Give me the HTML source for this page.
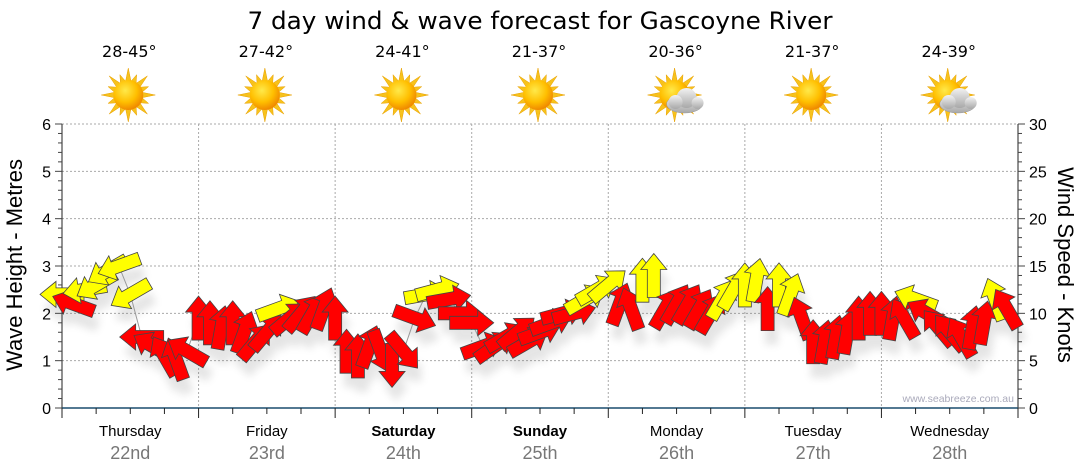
<!DOCTYPE html>
<html><head><meta charset="utf-8"><style>
body{margin:0;background:#fff;}
svg{display:block;font-family:"DejaVu Sans","Liberation Sans",sans-serif;}
</style></head><body>
<svg id="chart" width="1080" height="475" viewBox="0 0 1080 475">
<defs>
<radialGradient id="sunG" cx="40%" cy="35%" r="65%"><stop offset="0" stop-color="#ffe94a"/><stop offset="0.6" stop-color="#ffbf00"/><stop offset="1" stop-color="#f08a00"/></radialGradient>
<linearGradient id="cloudG" x1="0" y1="0" x2="0" y2="1"><stop offset="0" stop-color="#f2f2f2"/><stop offset="1" stop-color="#a8a8a8"/></linearGradient>
<filter id="sh" x="-50%" y="-50%" width="200%" height="200%"><feGaussianBlur stdDeviation="4"/></filter>
</defs>
<text x="540" y="29" text-anchor="middle" font-size="24" textLength="585" lengthAdjust="spacingAndGlyphs">7 day wind &amp; wave forecast for Gascoyne River</text>
<g id="grid"></g>
<g id="axes"></g>
<g id="days"></g>
<g id="shadows" opacity="0.15" filter="url(#sh)"></g>
<g id="marks"></g>
<text x="1014" y="402" text-anchor="end" font-size="10.5" fill="#aab" font-family="Liberation Sans, sans-serif">www.seabreeze.com.au</text>
<text transform="translate(22,265) rotate(-90)" text-anchor="middle" font-size="22" font-family="Liberation Sans, sans-serif">Wave Height - Metres</text>
<text transform="translate(1058,265) rotate(90)" text-anchor="middle" font-size="22" font-family="Liberation Sans, sans-serif">Wind Speed - Knots</text>
</svg>
<script>
const dayNames=["Thursday","Friday","Saturday","Sunday","Monday","Tuesday","Wednesday"];
const dayDates=["22nd","23rd","24th","25th","26th","27th","28th"];
const temps=["28-45°","27-42°","24-41°","21-37°","20-36°","21-37°","24-39°"];
const cloudy=[0,0,0,0,1,0,1];
const leftTicks=[0,1,2,3,4,5,6];
const rightTicks=[0,5,10,15,20,25,30];
// wind: hours from start, speed knots, direction arrow points (deg, 0=up, clockwise), colour
const hours=[0,2,4,6,8,10,12,14,16,18,20,22,24,26,28,30,32,34,36,38,40,42,44,46,48,50,52,54,56,58,60,62,64,66,68,70,72,74,76,78,80,82,84,86,88,90,92,94,96,98,100,102,104,106,108,110,112,114,116,118,120,122,124,126,128,130,132,134,136,138,140,142,144,146,148,150,152,154,156,158,160,162,164,166];
const speeds=[12,11,12.5,13,14.5,15,12,7.5,6.5,5.5,5.2,6,9.5,9,8.5,9,8,7,8,10.5,9.5,10,10,10.5,9.5,6,5.5,6.5,6,4.5,6,9.5,12,12.5,11.5,10,9,6.5,6.5,7.5,8,7,8,9,10,10,11.5,12.5,13,11,10.5,13.5,14,10.5,11,11,10.5,10,11.5,12.5,13,13.5,10.5,13,12,9.5,7,7,7.5,8,9.5,10,10,9.5,9.5,11.5,10,8.5,8,7.5,8.5,9,11.5,10.5];
const dirs=[270,290,260,240,240,250,240,270,300,330,340,300,0,0,10,0,20,40,40,70,50,40,30,20,0,0,0,20,160,180,140,110,80,75,80,90,90,70,55,60,50,60,70,70,75,75,60,60,50,20,340,0,0,30,30,30,30,30,30,30,0,10,0,0,20,340,0,10,10,10,0,0,0,10,330,290,300,320,320,330,10,10,340,330];
const colours=["y","r","y","y","y","y","y","r","r","r","r","r","r","r","r","r","r","r","r","y","r","r","r","r","r","r","r","r","r","r","r","r","y","y","r","r","r","r","r","r","r","r","r","r","r","r","y","y","y","r","r","y","y","r","r","r","r","r","y","y","y","y","r","y","y","r","r","r","r","r","r","r","r","r","r","y","r","r","r","r","r","r","y","r"];

const NS="http://www.w3.org/2000/svg";
const X0=62,X1=1018,Y0=408,Y6=124;
const dayW=(X1-X0)/7;
const xh=h=>X0+h*dayW/24;
const ym=m=>Y0-m*(Y0-Y6)/6;
const yk=k=>Y0-k*(Y0-Y6)/30;
function mk(tag,attrs,parent){const e=document.createElementNS(NS,tag);for(const k in attrs)e.setAttribute(k,attrs[k]);parent.appendChild(e);return e;}
const grid=document.getElementById('grid'),axes=document.getElementById('axes'),days=document.getElementById('days');
leftTicks.forEach(v=>{if(v>0){const l=mk('line',{x1:X0,x2:X1,y1:ym(v),y2:ym(v),stroke:'#aaa','stroke-dasharray':'2,2'},grid);}});
for(let d=1;d<7;d++){const l=mk('line',{x1:X0+d*dayW,x2:X0+d*dayW,y1:Y6,y2:Y0,stroke:'#aaa','stroke-dasharray':'2,2'},grid);}
mk('line',{x1:X0,x2:X0,y1:Y6,y2:Y0,stroke:'#222'},axes);
for(let i=0;i<=30;i++){const y=Y0-i*(Y0-Y6)/30;mk('line',{x1:X0-(i%5==0?7:4),x2:X0,y1:y,y2:y,stroke:'#444'},axes);}
leftTicks.forEach(v=>{const t=mk('text',{x:X0-11,y:ym(v)+6,'text-anchor':'end','font-size':'16','font-family':'Liberation Sans, sans-serif'},axes);t.textContent=v;});
mk('line',{x1:X1,x2:X1,y1:Y6,y2:Y0,stroke:'#222'},axes);
for(let i=0;i<=30;i++){const y=yk(i);mk('line',{x1:X1,x2:X1+(i%5==0?7:4),y1:y,y2:y,stroke:'#444'},axes);}
rightTicks.forEach(v=>{const t=mk('text',{x:X1+11,y:yk(v)+6,'font-size':'16','font-family':'Liberation Sans, sans-serif'},axes);t.textContent=v;});
mk('line',{x1:X0,x2:X1,y1:Y0,y2:Y0,stroke:'#1a4d6e','stroke-width':1.5},axes);
for(let q=0;q<=28;q++){const x=X0+q*dayW/4;mk('line',{x1:x,x2:x,y1:Y0,y2:Y0+(q%4==0?10:6),stroke:'#222'},axes);}
dayNames.forEach((n,i)=>{const cx=X0+(i+0.5)*dayW;
 const t=mk('text',{x:cx,y:436,'text-anchor':'middle','font-size':'15','font-weight':(i==2||i==3)?'bold':'normal','font-family':'Liberation Sans, sans-serif'},days);t.textContent=n;
 const d=mk('text',{x:cx,y:459,'text-anchor':'middle','font-size':'18',fill:'#777','font-family':'Liberation Sans, sans-serif'},days);d.textContent=dayDates[i];
 const tt=mk('text',{x:cx-1,y:57,'text-anchor':'middle','font-size':'16'},days);tt.textContent=temps[i];
 const g=mk('g',{transform:`translate(${cx-2},95)`},days);
 let pts='';for(let k=0;k<32;k++){const a=k*Math.PI/16,r=k%2==0?(k%4==0?27:22):14;pts+=(r*Math.sin(a)).toFixed(1)+','+(-r*Math.cos(a)).toFixed(1)+' ';}
 mk('polygon',{points:pts,fill:'#f7c21c',stroke:'#e8a000','stroke-width':0.5},g);
 mk('circle',{r:15,fill:'url(#sunG)'},g);
 if(cloudy[i]){const c=mk('g',{transform:'translate(10,6)'},g);
  mk('ellipse',{cx:0,cy:3,rx:18,ry:9,fill:'url(#cloudG)',stroke:'#999','stroke-width':0.5},c);
  mk('circle',{cx:2,cy:-3,r:10,fill:'url(#cloudG)'},c);mk('circle',{cx:-9,cy:1,r:7,fill:'url(#cloudG)'},c);mk('circle',{cx:13,cy:2,r:6,fill:'url(#cloudG)'},c);}
});
let wp=hours.map((h,i)=>xh(h).toFixed(1)+','+yk(speeds[i]).toFixed(1)).join(' ');
const wl=mk('polyline',{points:wp,fill:'none',stroke:'#999','stroke-width':1},document.getElementById('marks'));

const arrowPts="0,-22 13,-6 6.5,-6 6.5,22 -6.5,22 -6.5,-6 -13,-6";
const sh=document.getElementById('shadows'),mg=document.getElementById('marks');
hours.forEach((h,i)=>{const x=xh(h),y=yk(speeds[i]);
 mk('polygon',{points:arrowPts,transform:`translate(${x+4},${y+14}) rotate(${dirs[i]})`,fill:'#555'},sh);
 const a=mk('polygon',{points:arrowPts,transform:`translate(${x},${y}) rotate(${dirs[i]})`,fill:colours[i]=='y'?'#ffff00':'#ff0000',stroke:'#444','stroke-width':0.8},mg);
 
 
});
</script>
</body></html>
